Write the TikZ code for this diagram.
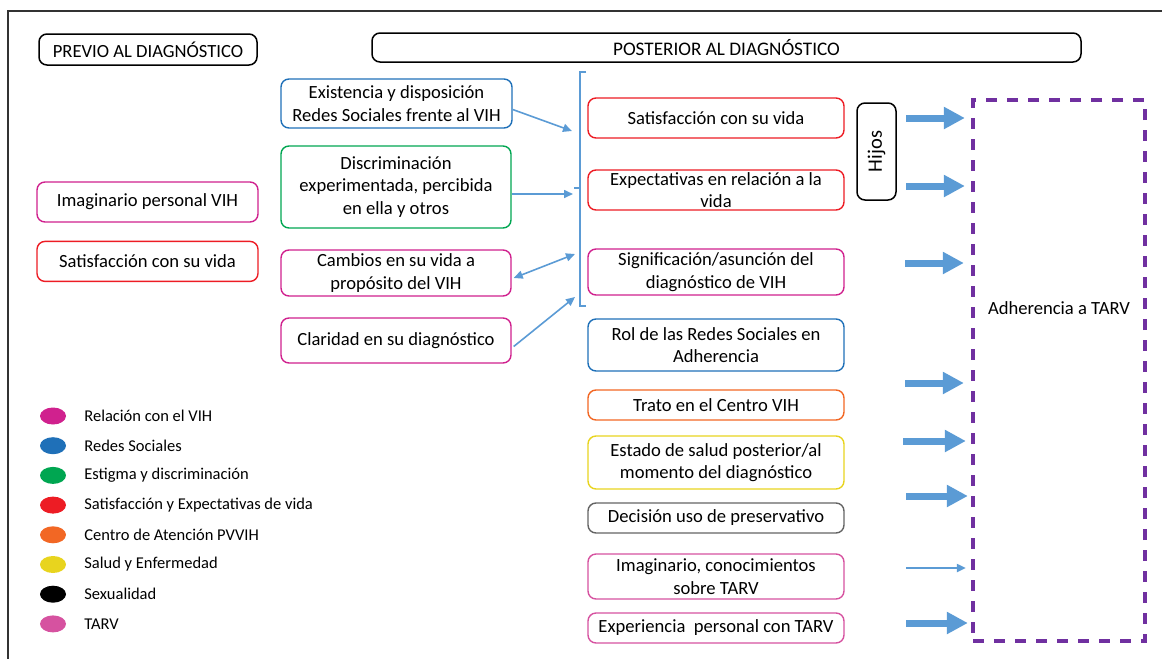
\documentclass[tikz,border=0pt]{standalone}
\usepackage{fontspec}
\setmainfont{Carlito}
\usepackage{tikz}
\usetikzlibrary{positioning, arrows.meta, calc, shapes.geometric}
\usepackage{xcolor}
\definecolor{vih-magenta}{RGB}{208,33,142}
\definecolor{redes-azul}{RGB}{31,112,184}
\definecolor{estigma-verde}{RGB}{0,166,81}
\definecolor{vida-rojo}{RGB}{237,28,36}
\definecolor{centro-naranja}{RGB}{242,103,36}
\definecolor{salud-amarillo}{RGB}{232,212,30}
\definecolor{tarv-rosa}{RGB}{214,82,160}
\definecolor{sexo-gris}{RGB}{100,100,100}
\definecolor{flecha-azul}{RGB}{91,155,213}
\definecolor{adh-morado}{RGB}{112,48,160}
\tikzset{
	caja/.style={draw, rounded corners=8pt, line width=1.4pt, align=center, inner sep=2pt, font=\fontsize{18.6}{22.5}\selectfont},
	titulo/.style={caja, draw=black, line width=1.5pt},
	punto/.style={ellipse, draw=none, minimum width=26pt, minimum height=17pt, inner sep=0pt},
	leyenda/.style={inner sep=0pt, font=\fontsize{16.5}{19}\selectfont},
	fina/.style={draw=flecha-azul, line width=1.6pt, -{Triangle[length=9pt,width=8pt]}},
	gruesa/.style={draw=flecha-azul, line width=7pt, -{Triangle[length=21pt,width=21pt]}}
}
\begin{document}
\begin{tikzpicture}[x=1pt, y=-1pt, node distance=12.3pt]
	\useasboundingbox (0,0) rectangle (1162,659);
	\draw[line width=1.5pt, black!80] (1162,11) -- (8,11) -- (8,659);
	% encabezados
	\node[titulo, minimum width=218pt, minimum height=31pt] (previo) at (148,49.5) {PREVIO AL DIAGNÓSTICO};
	\node[titulo, minimum width=709pt, minimum height=29pt, font=\fontsize{19.2}{22.5}\selectfont] (posterior) at (726.5,47.5) {POSTERIOR AL DIAGNÓSTICO};
	% previo al diagnostico
	\node[caja, draw=vih-magenta, minimum width=221pt, minimum height=40pt] (imagpers) at (147.5,202) {Imaginario personal VIH};
	\node[caja, draw=vida-rojo, minimum width=221pt, minimum height=40pt, below=18pt of imagpers] (satisprev) {Satisfacción con su vida};
	% columna central
	\node[caja, draw=redes-azul, minimum width=231pt, minimum height=49pt] (existencia) at (396.5,103.5) {Existencia y disposición\\Redes Sociales frente al VIH};
	\node[caja, draw=estigma-verde, minimum width=230pt, minimum height=82pt] (discrim) at (396,187) {Discriminación\\experimentada, percibida\\en ella y otros};
	\node[caja, draw=vih-magenta, minimum width=230pt, minimum height=46pt] (cambios) at (396,273) {Cambios en su vida a\\propósito del VIH};
	\node[caja, draw=vih-magenta, minimum width=230pt, minimum height=45pt] (claridad) at (396,340.5) {Claridad en su diagnóstico};
	% columna posterior
	\node[caja, draw=vida-rojo, minimum width=256pt, minimum height=40pt] (satis) at (716,118) {Satisfacción con su vida};
	\node[caja, draw=vida-rojo, minimum width=256pt, minimum height=40pt] (expect) at (716,190) {Expectativas en relación a la\\vida};
	\node[caja, draw=vih-magenta, minimum width=256pt, minimum height=46pt] (signif) at (716,272) {Significación/asunción del\\diagnóstico de VIH};
	\node[caja, draw=redes-azul, minimum width=256pt, minimum height=52pt] (rol) at (716,345) {Rol de las Redes Sociales en\\Adherencia};
	\node[caja, draw=centro-naranja, minimum width=256pt, minimum height=30pt] (trato) at (716,405) {Trato en el Centro VIH};
	\node[caja, draw=salud-amarillo, minimum width=256pt, minimum height=53pt] (estado) at (716,462.5) {Estado de salud posterior/al\\momento del diagnóstico};
	\node[caja, draw=sexo-gris, minimum width=256pt, minimum height=30pt] (decision) at (716,518) {Decisión uso de preservativo};
	\node[caja, draw=tarv-rosa, minimum width=256pt, minimum height=45pt] (imagtarv) at (716,576.5) {Imaginario, conocimientos\\sobre TARV};
	\node[caja, draw=tarv-rosa, minimum width=256pt, minimum height=30pt] (experiencia) at (716,628) {Experiencia\ \ personal con TARV};
	\node[titulo, rotate=90, minimum width=97pt, minimum height=39pt, font=\fontsize{20.5}{22.5}\selectfont] (hijos) at (876.5,151.5) {Hijos};
	% adherencia
	\node[draw=adh-morado, line width=4.3pt, dash pattern=on 11pt off 10pt, minimum width=172pt, minimum height=541pt] (adherencia) at (1059,370.5) {};
	\node[font=\fontsize{18.6}{22.5}\selectfont] (adhtexto) at (1059,308) {Adherencia a TARV};
	% llave
	\coordinate (llsup) at (580,72);
	\coordinate (llinf) at (580,306);
	\coordinate (llmed) at (580,188);
	\draw[flecha-azul, line width=1.6pt] ([xshift=6pt]llsup) -- (llsup) -- (llinf) -- ([xshift=6pt]llinf) (llmed) -- ([xshift=-6pt]llmed);
	\coordinate (b1) at (572,131);
	\coordinate (b2) at (573,194);
	\coordinate (b3) at (575,254);
	\coordinate (b4) at (575,297);
	\draw
	([yshift=-6pt]existencia.east) edge[fina] (b1)
	([yshift=-7pt]discrim.east) edge[fina] (b2)
	([xshift=2pt, yshift=-5pt]cambios.east) edge[fina, {Triangle[length=9pt,width=8pt]}-{Triangle[length=9pt,width=8pt]}] (b3)
	([xshift=2pt, yshift=-6pt]claridad.east) edge[fina] (b4);
	% flechas a adherencia
	\coordinate (h1) at (906,118);
	\coordinate (h2) at (906,186);
	\coordinate (h3) at (905,263);
	\coordinate (h4) at (905,383);
	\coordinate (h5) at (903,441);
	\coordinate (h6) at (906,496);
	\coordinate (h7) at (906,568);
	\coordinate (h8) at (906,623);
	\draw
	(h1) edge[gruesa, shorten >=6pt] (h1 -| adherencia.west)
	(h2) edge[gruesa, shorten >=6pt] (h2 -| adherencia.west)
	(h3) edge[gruesa, shorten >=7pt] (h3 -| adherencia.west)
	(h4) edge[gruesa, shorten >=7pt] (h4 -| adherencia.west)
	(h5) edge[gruesa, shorten >=5pt] (h5 -| adherencia.west)
	(h6) edge[gruesa, shorten >=3pt] (h6 -| adherencia.west)
	(h7) edge[fina, line width=2pt, shorten >=5pt] (h7 -| adherencia.west)
	(h8) edge[gruesa, shorten >=3pt] (h8 -| adherencia.west);
	% leyenda
	\node[punto, fill=vih-magenta] (l1) at (53,416) {};
	\node[punto, fill=redes-azul, below=of l1] (l2) {};
	\node[punto, fill=estigma-verde, below=of l2] (l3) {};
	\node[punto, fill=vida-rojo, below=of l3] (l4) {};
	\node[punto, fill=centro-naranja, below=of l4] (l5) {};
	\node[punto, fill=salud-amarillo, below=of l5] (l6) {};
	\node[punto, fill=black, below=of l6] (l7) {};
	\node[punto, fill=tarv-rosa, below=of l7] (l8) {};
	\node[leyenda, right=18pt of l1] {Relación con el VIH};
	\node[leyenda, right=18pt of l2] {Redes Sociales};
	\node[leyenda, right=18pt of l3] {Estigma y discriminación};
	\node[leyenda, right=18pt of l4] {Satisfacción y Expectativas de vida};
	\node[leyenda, right=18pt of l5] {Centro de Atención PVVIH};
	\node[leyenda, right=18pt of l6] {Salud y Enfermedad};
	\node[leyenda, right=18pt of l7] {Sexualidad};
	\node[leyenda, right=18pt of l8] {TARV};
\end{tikzpicture}
\end{document}
